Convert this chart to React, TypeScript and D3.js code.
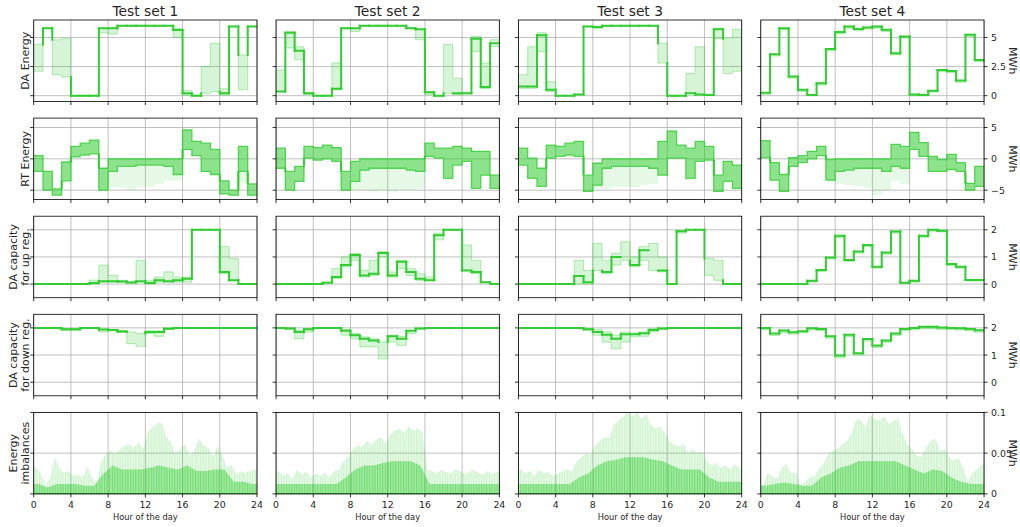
import React from "react";
import * as d3 from "d3";

// ---- data ----
const testSets = ["Test set 1", "Test set 2", "Test set 3", "Test set 4"];
const rowLabels = [["DA Energy"], ["RT Energy"], ["DA capacity", "for up reg."], ["DA capacity", "for down reg."], ["Energy", "imbalances"]];
const hourTicks = [0, 4, 8, 12, 16, 20, 24];
const yTicks = [[0, 2.5, 5], [-5, 0, 5], [0, 1, 2], [0, 1, 2], [0, 0.05, 0.1]];
const yTickLabels = [["0", "2.5", "5"], ["\u22125", "0", "5"], ["0", "1", "2"], ["0", "1", "2"], ["0", "0.05", "0.1"]];
const yDomains = [[-0.5, 6.5], [-6.5, 6.5], [-0.5, 2.5], [-0.5, 2.5], [0, 0.1]];

const N = null;

// DA energy: dense line (null where the runs spread out), lower / upper spread
const daMain = [
  [N, 5.8, N, N, 0, 0, 0, 5.8, 5.8, 6.0, 6.0, 6.0, 6.0, 6.0, 6.0, 5.65, 0.2, 0, N, N, 0.2, 5.95, N, 5.95],
  [0.35, 5.4, 3.85, 0.2, 0, 0, 0.6, 5.8, 5.8, 6.0, 6.0, 6.0, 6.0, 6.0, 5.8, 5.7, 0.3, 0, N, 0.2, 0.2, 4.9, 0.75, 4.5],
  [0.78, 0.78, 5.2, 0.5, 0, 0, 0.1, 5.95, 5.9, 6.0, 6.0, 6.0, 6.0, 6.0, 6.0, N, 0, 0, 0.2, 0.1, 0.05, 5.7, N, N],
  [0.26, 3.56, 5.8, 1.64, 0.5, 0.06, 1.06, 4.0, 5.46, 5.95, 5.72, 5.86, 5.95, 5.66, 3.65, 5.09, 0.11, 0.06, 0.43, 2.2, 2.13, 1.3, 5.23, 3.07],
];
const daLo = [
  [2.1, 5.8, 1.8, 1.6, 0, 0, 0, 5.4, 5.3, 6.0, 6.0, 6.0, 6.0, 6.0, 6.0, 5.0, 0.05, 0, 0.2, 0.35, 0.05, 5.95, 0.5, 5.95],
  [0.35, 4.1, 3.1, 0.1, 0, 0, 0.5, 5.8, 5.5, 6.0, 6.0, 6.0, 6.0, 6.0, 5.8, 4.8, 0.1, 0, 0.2, 0.1, 0.15, 3.8, 0.6, 4.2],
  [0.63, 0.63, 3.8, 0.35, 0, 0, 0.1, 5.95, 5.75, 6.0, 6.0, 6.0, 6.0, 6.0, 6.0, 2.8, 0, 0, 0.2, 0.05, 0.05, 4.9, 1.9, 2.1],
  [0.12, 3.4, 5.65, 1.5, 0.36, 0, 0.9, 3.85, 5.3, 5.8, 5.58, 5.72, 5.8, 5.5, 3.5, 4.95, 0, 0, 0.3, 2.05, 1.98, 1.15, 5.1, 2.92],
];
const daHi = [
  [4.4, 5.8, 4.8, 4.9, 0, 0, 0, 5.8, 5.8, 6.0, 6.0, 6.0, 6.0, 6.0, 6.0, 5.8, 0.45, 0.05, 2.5, 4.5, 0.6, 5.95, 3.5, 5.95],
  [2.2, 5.5, 4.2, 0.25, 0, 0, 2.8, 5.8, 5.8, 6.0, 6.0, 6.0, 6.0, 6.0, 5.8, 5.7, 0.35, 0, 4.4, 1.5, 0.25, 5.1, 2.8, 4.8],
  [1.8, 4.2, 5.4, 1.2, 0, 0, 0.1, 5.95, 5.95, 6.0, 6.0, 6.0, 6.0, 6.0, 6.0, 4.5, 0, 0, 1.9, 4.2, 0.05, 5.8, 4.9, 5.7],
  [0.26, 3.56, 5.8, 1.64, 0.5, 0.06, 1.06, 4.0, 5.46, 5.95, 5.72, 5.86, 5.95, 5.66, 3.65, 5.09, 0.11, 0.06, 0.43, 2.2, 2.13, 1.3, 5.23, 3.07],
];

// RT energy: dense band top / bottom, and the faint lowest runs
const rtTop = [
  [0.5, -2.0, -4.8, -0.5, 2.0, 2.5, 3.0, -1.5, 0, 0, 0, 0, 0, 0, 0, 0, 4.6, 2.8, 2.5, 1.5, -3.5, -5.0, 2.0, -4.0],
  [1.7, -2.0, -1.2, 2.0, 1.8, 2.2, 1.8, -2.0, -0.4, 0, 0, 0, 0, 0, 0, 0, 2.5, 1.7, 1.7, 2.0, 1.7, 1.2, 1.2, -2.6],
  [1.7, 0.1, -1.5, 2.2, 2.0, 2.5, 2.8, -2.6, -0.7, 0, 0, 0, 0, 0, 0, 2.8, 4.4, 2.2, 1.7, 2.8, 2.0, -2.6, -0.4, -1.0],
  [2.9, -0.6, -2.5, 0.2, 0.5, 1.2, 2.0, -0.1, 0, 0, 0, 0, 0, 0, 2.3, 2.0, 4.2, 2.6, 0.4, -0.1, 0.7, -0.6, -3.9, -1.2],
];
const rtBot = [
  [-2.0, -5.0, -5.8, -3.5, 0.3, 0.6, 0.8, -5.0, -2.0, -1.2, -1.2, -1.0, -1.0, -1.0, -1.2, -2.5, 1.5, 0.5, -2.0, -2.5, -5.6, -5.8, -2.0, -5.8],
  [-1.5, -5.0, -3.6, 0.1, -0.2, 0, -0.4, -5.0, -3.6, -1.8, -1.5, -1.5, -1.5, -1.5, -1.8, -2.0, 0.4, 0.1, -3.1, -1.0, -0.4, -4.7, -2.6, -4.7],
  [-1.0, -3.1, -4.4, 0.1, 0.4, 0.6, 0.4, -5.2, -4.2, -1.5, -1.2, -1.2, -1.2, -1.2, -1.5, -2.6, 0.1, 0.1, -3.1, -0.4, -0.2, -5.2, -3.6, -4.7],
  [0.2, -3.4, -5.2, -1.2, -0.6, 0, 0.5, -3.4, -2.0, -1.8, -1.5, -1.5, -1.5, -2.0, -1.2, -1.5, 1.5, 0.4, -2.0, -2.0, -1.7, -2.0, -5.0, -4.4],
];
const rtFloor = [
  [-2.0, -5.0, -5.8, -3.5, 0.3, 0.6, 0.8, -5.0, -4.5, -4.5, -5.0, -4.5, -4.5, -4.0, -3.5, -3.5, 1.5, 0.5, -2.0, -2.5, -5.6, -5.8, -3.9, -5.8],
  [-1.5, -5.0, -3.6, 0.1, -0.2, 0, -0.4, -5.0, -5.0, -5.0, -5.2, -5.0, -5.2, -5.0, -5.0, -4.8, 0.4, 0.1, -3.1, -1.0, -0.4, -4.7, -2.6, -4.7],
  [-1.0, -3.1, -4.4, 0.1, 0.4, 0.6, 0.4, -5.2, -4.8, -4.8, -4.5, -4.5, -4.5, -4.2, -4.0, -2.6, 0.1, 0.1, -3.1, -0.4, -0.2, -5.2, -3.6, -4.7],
  [0.2, -3.4, -5.2, -1.2, -0.6, 0, 0.5, -3.4, -4.0, -4.2, -4.4, -4.6, -5.8, -5.0, -3.5, -4.0, 1.5, 0.4, -2.0, -2.0, -1.7, -2.0, -5.0, -4.4],
];

// DA capacity for up regulation
const upMain = [
  [0, 0, 0, 0, 0, 0, 0.04, 0.11, 0.11, 0.1, 0.06, 0.11, 0.04, 0.14, 0.11, 0.14, 0.2, 2.0, 2.0, 2.0, 0.45, 0.14, 0, 0],
  [0, 0, 0, 0, 0, 0.05, 0.26, 0.7, 1.07, 0.32, 0.38, 1.15, 0.32, 0.82, 0.45, 0.2, 0.14, 1.8, 2.0, 2.0, 0.5, 0.45, 0.07, 0],
  [0, 0, 0, 0, 0, 0, 0.3, 0.07, N, 0.45, 1.0, N, 0.7, 1.25, N, 0.5, 0, 1.95, 2.0, 2.0, N, N, 0, 0],
  [0, 0, 0, 0, 0, 0.12, 0.52, 0.98, 1.78, 0.89, 1.2, 1.44, 0.64, 1.16, 1.94, 0.05, 0.12, 1.78, 2.0, 1.96, 0.74, 0.64, 0.15, 0.15],
];
const upLo = [
  [0, 0, 0, 0, 0, 0, 0, 0.07, 0.07, 0.07, 0.04, 0.07, 0, 0.07, 0.07, 0.07, 0.07, 2.0, 2.0, 2.0, 0.38, 0.14, 0, 0],
  [0, 0, 0, 0, 0, 0.05, 0.2, 0.63, 0.88, 0.26, 0.32, 1.0, 0.26, 0.57, 0.32, 0.14, 0.14, 1.63, 2.0, 2.0, 0.5, 0.38, 0.07, 0],
  [0, 0, 0, 0, 0, 0, 0, 0, 0.5, 0.38, 0.7, 0.88, 0.63, 0.88, 0.5, 0.45, 0, 1.88, 2.0, 2.0, 0.32, 0.14, 0, 0],
  [0, 0, 0, 0, 0, 0.07, 0.46, 0.92, 1.72, 0.83, 1.14, 1.38, 0.58, 1.1, 1.88, 0.02, 0.07, 1.72, 1.95, 1.92, 0.68, 0.58, 0.12, 0.12],
];
const upHi = [
  [0, 0, 0, 0, 0, 0, 0.15, 0.7, 0.32, 0.14, 0.1, 0.88, 0.14, 0.26, 0.45, 0.26, 0.26, 2.0, 2.0, 2.0, 1.38, 0.94, 0, 0],
  [0, 0, 0, 0, 0, 0.07, 0.57, 1.0, 1.13, 0.5, 0.88, 1.2, 0.45, 0.88, 0.57, 0.38, 0.26, 1.88, 2.0, 2.0, 1.44, 0.88, 0.07, 0],
  [0, 0, 0, 0, 0, 0, 0.88, 0.5, 1.5, 0.88, 1.13, 1.56, 1.0, 1.38, 1.5, 1.0, 0, 1.97, 2.0, 2.0, 0.94, 0.88, 0, 0],
  [0, 0, 0, 0, 0, 0.12, 0.52, 0.98, 1.78, 0.89, 1.2, 1.44, 0.64, 1.16, 1.94, 0.05, 0.12, 1.78, 2.0, 1.96, 0.74, 0.64, 0.15, 0.15],
];

// DA capacity for down regulation
const downMain = [
  [2, 2, 2, 1.95, 1.95, 2, 2, 1.94, 1.92, 1.87, N, N, 1.85, 1.85, 1.97, 2, 2, 2, 2, 2, 2, 2, 2, 2],
  [2, 1.98, 1.85, 1.95, 2, 2, 2, 1.89, 1.73, 1.6, 1.54, N, 1.69, 1.6, 1.89, 1.98, 2, 2, 2, 2, 2, 2, 2, 2],
  [2, 2, 2, 2, 2, 2, 2, 1.95, 1.85, 1.75, 1.6, 1.77, 1.77, 1.8, 1.92, 1.98, 2, 2, 2, 2, 2, 2, 2, 2],
  [2.0, 1.79, 1.9, 1.84, 1.88, 1.99, 1.96, 1.69, 0.98, 1.75, 1.07, 1.59, 1.35, 1.54, 1.79, 1.96, 2.0, 2.04, 2.04, 2.01, 2.0, 1.99, 1.96, 1.91],
];
const downLo = [
  [2, 2, 2, 1.9, 1.9, 2, 2, 1.85, 1.89, 1.83, 1.42, 1.32, 1.79, 1.69, 1.94, 2, 2, 2, 2, 2, 2, 2, 2, 2],
  [2, 1.95, 1.6, 1.85, 2, 2, 2, 1.73, 1.6, 1.3, 1.3, 0.86, 1.48, 1.36, 1.79, 1.95, 2, 2, 2, 2, 2, 2, 2, 2],
  [2, 2, 2, 2, 2, 2, 2, 1.91, 1.73, 1.48, 1.23, 1.48, 1.67, 1.69, 1.85, 1.94, 2, 2, 2, 2, 2, 2, 2, 2],
  [1.93, 1.72, 1.83, 1.77, 1.81, 1.92, 1.89, 1.62, 0.9, 1.68, 1.0, 1.52, 1.28, 1.47, 1.72, 1.89, 1.93, 1.97, 1.97, 1.94, 1.93, 1.92, 1.89, 1.84],
];
const downHi = [
  [2, 2, 2, 1.97, 1.97, 2, 2, 1.95, 1.94, 1.9, 1.85, 1.79, 1.89, 1.89, 2.0, 2, 2, 2, 2, 2, 2, 2, 2, 2],
  [2, 2, 1.91, 1.98, 2, 2, 2, 1.94, 1.79, 1.67, 1.6, 1.48, 1.73, 1.69, 1.91, 1.98, 2, 2, 2, 2, 2, 2, 2, 2],
  [2, 2, 2, 2, 2, 2, 2, 1.98, 1.94, 1.85, 1.73, 1.85, 1.81, 1.85, 1.98, 2.0, 2, 2, 2, 2, 2, 2, 2, 2],
  [2.0, 1.79, 1.9, 1.84, 1.88, 1.99, 1.96, 1.69, 0.98, 1.75, 1.07, 1.59, 1.35, 1.54, 1.79, 1.96, 2.0, 2.04, 2.04, 2.01, 2.0, 1.99, 1.96, 1.91],
];

// energy imbalances: half-hourly peak of the faint runs, hourly level of the dense runs
const imbPeak = [
  [0.032, 0.026, 0.009, 0.02, 0.045, 0.032, 0.026, 0.028, 0.022, 0.024, 0.02, 0.034, 0.02, 0.013, 0.04, 0.049, 0.053, 0.049, 0.055, 0.059, 0.061, 0.057, 0.063, 0.055,
   0.076, 0.082, 0.086, 0.088, 0.07, 0.063, 0.049, 0.055, 0.061, 0.047, 0.053, 0.068, 0.059, 0.057, 0.045, 0.059, 0.049, 0.032, 0.036, 0.024, 0.028, 0.026, 0.028, 0.03],
  [0.028, 0.022, 0.025, 0.018, 0.03, 0.024, 0.027, 0.02, 0.025, 0.022, 0.026, 0.02, 0.028, 0.03, 0.04, 0.045, 0.055, 0.06, 0.058, 0.065, 0.06, 0.066, 0.07, 0.062,
   0.072, 0.078, 0.08, 0.075, 0.083, 0.078, 0.08, 0.076, 0.03, 0.028, 0.025, 0.03, 0.027, 0.025, 0.03, 0.028, 0.025, 0.027, 0.03, 0.026, 0.024, 0.028, 0.025, 0.027],
  [0.03, 0.025, 0.028, 0.022, 0.03, 0.025, 0.027, 0.022, 0.025, 0.028, 0.03, 0.028, 0.04, 0.045, 0.05, 0.048, 0.06, 0.065, 0.07, 0.068, 0.085, 0.09, 0.095, 0.1,
   0.095, 0.1, 0.092, 0.098, 0.085, 0.08, 0.083, 0.075, 0.065, 0.06, 0.058, 0.062, 0.05, 0.055, 0.05, 0.052, 0.04, 0.035, 0.038, 0.032, 0.035, 0.03, 0.036, 0.032],
  [0.011, 0.026, 0.022, 0.018, 0.032, 0.036, 0.026, 0.026, 0.011, 0.015, 0.02, 0.022, 0.03, 0.038, 0.049, 0.053, 0.055, 0.061, 0.065, 0.074, 0.092, 0.09, 0.082, 0.097,
   0.092, 0.09, 0.095, 0.086, 0.09, 0.092, 0.074, 0.061, 0.055, 0.047, 0.045, 0.057, 0.065, 0.068, 0.053, 0.055, 0.045, 0.04, 0.045, 0.032, 0.015, 0.026, 0.03, 0.036],
];
const imbDense = [
  [0.012, 0.008, 0.012, 0.012, 0.012, 0.01, 0.01, 0.025, 0.035, 0.03, 0.03, 0.03, 0.032, 0.035, 0.032, 0.03, 0.035, 0.028, 0.028, 0.03, 0.03, 0.015, 0.015, 0.012],
  [0.012, 0.012, 0.012, 0.012, 0.012, 0.012, 0.012, 0.02, 0.03, 0.035, 0.035, 0.038, 0.04, 0.04, 0.04, 0.035, 0.012, 0.012, 0.012, 0.012, 0.012, 0.012, 0.012, 0.012],
  [0.012, 0.012, 0.012, 0.012, 0.012, 0.012, 0.02, 0.025, 0.035, 0.04, 0.042, 0.045, 0.045, 0.045, 0.042, 0.04, 0.035, 0.03, 0.03, 0.03, 0.02, 0.015, 0.015, 0.015],
  [0.01, 0.012, 0.014, 0.012, 0.01, 0.01, 0.02, 0.025, 0.032, 0.035, 0.04, 0.04, 0.04, 0.04, 0.04, 0.035, 0.03, 0.025, 0.03, 0.028, 0.02, 0.015, 0.012, 0.012],
];

// ---- layout ----
const W = 1020;
const H = 527;
const colLeft = 33.7;
const colPitch = 242.35;
const panelW = 223.3;
const rowTop = 20;
const rowPitch = 98.1;
const panelH = 81.5;
const GREEN = "#32cd32";
const FONT = "DejaVu Sans, sans-serif";

const ext = (a) => [...a, a[a.length - 1]];

// vertical range every run passes through between two consecutive hours
const gap = (a, b) => {
  if (a[1] < b[0]) return [a[1], b[0]];
  if (b[1] < a[0]) return [b[1], a[0]];
  return null;
};

function StepBands({ x, y, main, lo, hi }) {
  const hrs = d3.range(25);
  const loE = ext(lo);
  const hiE = ext(hi);
  const band = d3.area().x((i) => x(i)).y0((i) => y(loE[i])).y1((i) => y(hiE[i])).curve(d3.curveStepAfter);
  const edge = (arr) => d3.line().x((i) => x(i)).y((i) => y(arr[i])).curve(d3.curveStepAfter);
  const iv = (i) => (main[i] != null ? [main[i], main[i]] : [lo[i], hi[i]]);
  const segs = [];
  main.forEach((v, i) => {
    if (v != null) segs.push([x(i), y(v), x(i + 1), y(v)]);
  });
  for (let i = 0; i < 23; i++) {
    const g = gap(iv(i), iv(i + 1));
    if (g) segs.push([x(i + 1), y(g[0]), x(i + 1), y(g[1])]);
  }
  return (
    <g>
      <path d={band(hrs)} fill={GREEN} opacity={0.2} />
      <path d={edge(loE)(hrs)} fill="none" stroke={GREEN} strokeOpacity={0.35} strokeWidth={1} />
      <path d={edge(hiE)(hrs)} fill="none" stroke={GREEN} strokeOpacity={0.35} strokeWidth={1} />
      {segs.map((s, k) => (
        <line key={k} x1={s[0]} y1={s[1]} x2={s[2]} y2={s[3]} stroke={GREEN} strokeWidth={2} strokeLinecap="square" />
      ))}
    </g>
  );
}

function RtBands({ x, y, top, bot, floor }) {
  const hrs = d3.range(25);
  const tE = ext(top);
  const bE = ext(bot);
  const fE = ext(floor);
  const area = (lo, hi) => d3.area().x((i) => x(i)).y0((i) => y(lo[i])).y1((i) => y(hi[i])).curve(d3.curveStepAfter)(hrs);
  const edge = (arr) => d3.line().x((i) => x(i)).y((i) => y(arr[i])).curve(d3.curveStepAfter)(hrs);
  const segs = [];
  for (let i = 0; i < 23; i++) {
    const g = gap([bot[i], top[i]], [bot[i + 1], top[i + 1]]);
    if (g) segs.push([x(i + 1), y(g[0]), x(i + 1), y(g[1])]);
  }
  return (
    <g>
      <path d={area(fE, tE)} fill={GREEN} opacity={0.12} />
      <path d={area(bE, tE)} fill={GREEN} opacity={0.5} />
      <path d={edge(tE)} fill="none" stroke={GREEN} strokeOpacity={0.8} strokeWidth={1.3} />
      <path d={edge(bE)} fill="none" stroke={GREEN} strokeOpacity={0.8} strokeWidth={1.3} />
      {segs.map((s, k) => (
        <line key={k} x1={s[0]} y1={s[1]} x2={s[2]} y2={s[3]} stroke={GREEN} strokeWidth={2} />
      ))}
    </g>
  );
}

function ImbalanceBands({ x, y, peak, dense }) {
  const pts = [[0, peak[0]], ...peak.map((v, i) => [i * 0.5 + 0.25, v]), [24, peak[peak.length - 1]]];
  const peakArea = d3.area().x((d) => x(d[0])).y0(y(0)).y1((d) => y(d[1]))(pts);
  const dPts = [[0, dense[0]], ...dense.map((v, i) => [i + 0.5, v]), [24, dense[dense.length - 1]]];
  const denseArea = d3.area().x((d) => x(d[0])).y0(y(0)).y1((d) => y(d[1]))(dPts);
  return (
    <g>
      <path d={peakArea} fill={GREEN} opacity={0.12} />
      <path d={peakArea} fill="url(#streaks)" opacity={0.25} />
      <path d={denseArea} fill="url(#streaks)" opacity={0.7} />
      <path d={denseArea} fill={GREEN} opacity={0.35} />
      <line x1={x(0)} x2={x(24)} y1={y(0)} y2={y(0)} stroke={GREEN} strokeWidth={2} />
    </g>
  );
}

function Panel({ r, c }) {
  const x0 = colLeft + c * colPitch;
  const y0 = rowTop + r * rowPitch;
  const x = d3.scaleLinear().domain([0, 24]).range([x0, x0 + panelW]);
  const y = d3.scaleLinear().domain(yDomains[r]).range([y0 + panelH, y0]);
  const clipId = `clip-${r}-${c}`;

  let content = null;
  if (r === 0) content = <StepBands x={x} y={y} main={daMain[c]} lo={daLo[c]} hi={daHi[c]} />;
  if (r === 1) content = <RtBands x={x} y={y} top={rtTop[c]} bot={rtBot[c]} floor={rtFloor[c]} />;
  if (r === 2) content = <StepBands x={x} y={y} main={upMain[c]} lo={upLo[c]} hi={upHi[c]} />;
  if (r === 3) content = <StepBands x={x} y={y} main={downMain[c]} lo={downLo[c]} hi={downHi[c]} />;
  if (r === 4) content = <ImbalanceBands x={x} y={y} peak={imbPeak[c]} dense={imbDense[c]} />;

  const yc = y0 + panelH / 2;
  return (
    <g>
      <clipPath id={clipId}>
        <rect x={x0} y={y0} width={panelW} height={panelH} />
      </clipPath>
      {/* grid */}
      {hourTicks.map((t) => (
        <line key={"gx" + t} x1={x(t)} x2={x(t)} y1={y0} y2={y0 + panelH} stroke="#b0b0b0" strokeWidth={0.8} />
      ))}
      {yTicks[r].map((t) => (
        <line key={"gy" + t} x1={x0} x2={x0 + panelW} y1={y(t)} y2={y(t)} stroke="#b0b0b0" strokeWidth={0.8} />
      ))}
      <g clipPath={`url(#${clipId})`}>{content}</g>
      {/* spines */}
      <rect x={x0} y={y0} width={panelW} height={panelH} fill="none" stroke="#000" strokeWidth={0.8} />
      {/* ticks */}
      {hourTicks.map((t) => (
        <line key={"tx" + t} x1={x(t)} x2={x(t)} y1={y0 + panelH} y2={y0 + panelH + 3.5} stroke="#000" strokeWidth={0.8} />
      ))}
      {yTicks[r].map((t) => (
        <line key={"ty" + t} x1={x0 - 3.5} x2={x0} y1={y(t)} y2={y(t)} stroke="#000" strokeWidth={0.8} />
      ))}
      {c === 3 &&
        yTicks[r].map((t, i) => (
          <g key={"ry" + t}>
            <line x1={x0 + panelW} x2={x0 + panelW + 3.5} y1={y(t)} y2={y(t)} stroke="#000" strokeWidth={0.8} />
            <text x={x0 + panelW + 7} y={y(t)} dominantBaseline="central" fontSize={9.4} fill="#262626">
              {yTickLabels[r][i]}
            </text>
          </g>
        ))}
      {c === 3 && (
        <text transform={`translate(1012.5,${yc}) rotate(90)`} textAnchor="middle" dominantBaseline="central" fontSize={11} fill="#262626">
          MWh
        </text>
      )}
      {r === 4 &&
        hourTicks.map((t) => (
          <text key={"lx" + t} x={x(t)} y={y0 + panelH + 7} dy="0.76em" textAnchor="middle" fontSize={9.4} fill="#262626">
            {t}
          </text>
        ))}
      {r === 4 && (
        <text x={x0 + panelW / 2} y={517} dominantBaseline="central" textAnchor="middle" fontSize={8.3} fill="#262626">
          Hour of the day
        </text>
      )}
      {r === 0 && (
        <text x={x0 + panelW / 2} y={15.5} textAnchor="middle" fontSize={13.8} fill="#262626">
          {testSets[c]}
        </text>
      )}
      {c === 0 &&
        rowLabels[r].map((s, i) => {
          const lx = rowLabels[r].length === 1 ? 25 : 13 + i * 12.3;
          return (
            <text key={s} transform={`translate(${lx},${yc}) rotate(-90)`} textAnchor="middle" dominantBaseline="central" fontSize={11} fill="#262626">
              {s}
            </text>
          );
        })}
    </g>
  );
}

export default function App() {
  const rows = d3.range(5);
  const cols = d3.range(4);
  return (
    <svg width={W} height={H} style={{ position: "absolute", left: 0, top: 0, background: "#fff" }} fontFamily={FONT}>
      <defs>
        <pattern id="streaks" width={2.6} height={6} patternUnits="userSpaceOnUse">
          <rect x={0} y={0} width={1.1} height={6} fill={GREEN} opacity={0.55} />
        </pattern>
      </defs>
      <rect width={W} height={H} fill="#fff" />
      {rows.map((r) => cols.map((c) => <Panel key={`${r}-${c}`} r={r} c={c} />))}
    </svg>
  );
}
